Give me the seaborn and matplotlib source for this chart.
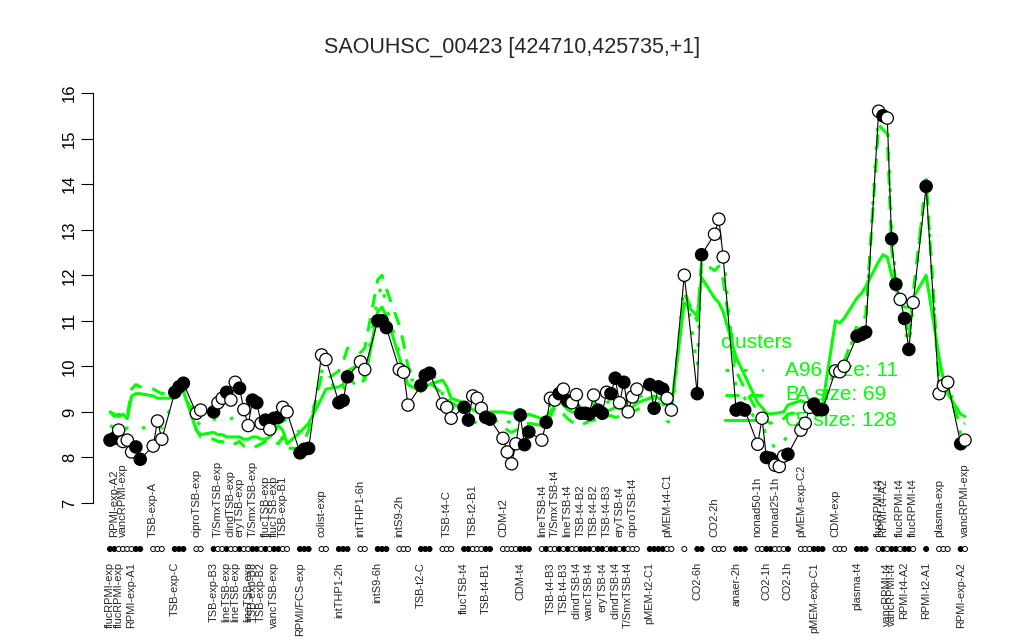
import numpy as np
import pandas as pd
import matplotlib
matplotlib.use("Agg")
import matplotlib.pyplot as plt
import matplotlib.transforms as mtransforms
from matplotlib.lines import Line2D
import seaborn as sns

title = "SAOUHSC_00423 [424710,425735,+1]"

# expression values per sample group (left to right)
expr = [
    [8.38, 8.42, 8.6, 8.35, 8.38, 8.12, 8.23, 7.96],
    [8.25, 8.8, 8.4],
    [9.43, 9.55, 9.63],
    [8.97, 9.04],
    [9.0, 9.2, 9.3, 9.43, 9.26, 9.65, 9.52, 9.05, 8.7, 9.26, 9.2, 8.75, 8.82, 8.62, 8.86, 8.88, 9.1, 9.0],
    [8.1, 8.18, 8.2],
    [10.25, 10.15],
    [9.2, 9.25, 9.77],
    [10.1, 9.93],
    [11.0, 11.0, 10.85],
    [9.93, 9.87, 9.15],
    [9.58, 9.8, 9.85],
    [9.17, 9.1, 8.86],
    [9.1, 8.82, 9.35, 9.3, 9.08, 8.88, 8.84],
    [8.42, 8.12, 7.86, 8.3, 8.93, 8.28, 8.56],
    [8.38, 8.77, 9.3, 9.26, 9.4, 9.5, 9.24, 9.2, 9.38, 8.97, 8.97, 8.95, 9.37, 9.04, 8.97, 9.43, 9.4, 9.74, 9.2, 9.65, 9.0, 9.33, 9.5],
    [9.6, 9.08, 9.55, 9.5, 9.3, 9.04],
    [12.0],
    [9.4, 12.45],
    [12.9, 13.23, 12.4],
    [9.04, 9.08, 9.04],
    [8.29, 8.86, 8.0, 7.98, 7.83, 7.8, 8.03, 8.07],
    [8.6, 8.75, 9.1, 9.17, 9.05, 9.05],
    [9.9, 9.88, 10.0],
    [10.66, 10.7, 10.75],
    [15.6, 15.5, 15.45, 12.8, 11.8, 11.47, 11.05, 10.37, 11.4],
    [13.95],
    [9.4, 9.58, 9.65],
    [8.3, 8.38],
]

# F = filled circle, O = open circle
fills = [
    "FFOOOOFF", "OOO", "FFF", "OO", "FOOFOOFOOFFOFOFFOO", "FFF", "OO", "FFF", "OO",
    "FFF", "OOO", "FFF", "OOO", "FFOOOFF", "OOOOFFF", "OFOOFOFOOFFFOFFOFFOFOOO",
    "FFFFOO", "O", "FF", "OOO", "FFF", "OOFFOOOF", "OOOFFF", "OOO", "FFF", "OFOFFOFFO",
    "F", "OOO", "FO",
]

# cluster mean profiles
cluster_A = [
    [8.7, 8.65, 8.7, 8.6, 8.65, 8.6, 8.65, 8.65],
    [8.65, 8.7, 8.65],
    [9.3, 9.5, 9.6],
    [8.8, 8.7],
    [8.85, 8.8, 8.8, 8.85, 8.85, 8.9, 8.85, 8.75, 8.7, 8.75, 8.8, 8.75, 8.7, 8.6, 8.7, 8.65, 8.9, 8.75],
    [8.55, 8.5, 8.6],
    [9.9, 9.8],
    [9.4, 9.5, 9.75],
    [9.5, 9.8],
    [11.5, 11.8, 11.3],
    [10.3, 10.0, 9.7],
    [9.7, 9.9, 10.0],
    [9.4, 9.3, 9.1],
    [9.0, 8.9, 9.15, 9.1, 9.0, 8.9, 8.9],
    [8.9, 8.8, 8.75, 8.85, 9.15, 8.9, 8.8],
    [8.8, 8.9, 9.2, 9.3, 9.3, 9.35, 9.25, 9.2, 9.2, 9.1, 9.05, 9.1, 9.2, 9.15, 9.1, 9.2, 9.25, 9.4, 9.2, 9.35, 9.15, 9.2, 9.3],
    [9.45, 9.2, 9.3, 9.2, 8.8, 8.75],
    [11.9],
    [10.0, 12.3],
    [12.9, 13.0, 12.5],
    [9.5, 9.4, 9.3],
    [8.7, 8.9, 8.4, 8.35, 8.2, 8.2, 8.35, 8.5],
    [8.7, 8.85, 9.0, 9.1, 9.0, 9.05],
    [9.9, 9.95, 10.1],
    [10.8, 10.85, 10.9],
    [15.7, 15.6, 15.5, 13.0, 11.9, 11.5, 11.0, 10.3, 11.4],
    [14.2],
    [9.5, 9.6, 9.7],
    [8.5, 8.55],
]
cluster_B = [
    [9.0, 8.9, 8.95, 8.85, 8.9, 9.5, 9.6, 9.55],
    [9.5, 9.45, 9.4],
    [9.45, 9.5, 9.55],
    [8.6, 8.45],
    [8.4, 8.35, 8.35, 8.3, 8.35, 8.3, 8.35, 8.25, 8.25, 8.2, 8.25, 8.3, 8.35, 8.3, 8.35, 8.3, 8.45, 8.2],
    [8.2, 8.35, 8.6],
    [9.8, 9.7],
    [9.9, 10.1, 10.4],
    [10.3, 10.4],
    [11.9, 12.0, 11.7],
    [10.9, 10.5, 10.0],
    [9.45, 9.6, 9.65],
    [9.4, 9.3, 9.2],
    [9.05, 8.9, 8.8, 8.75, 8.8, 8.85, 8.9],
    [8.7, 8.6, 8.55, 8.6, 8.65, 8.7, 8.75],
    [8.7, 8.75, 8.9, 9.1, 9.05, 8.95, 8.85, 8.78, 8.72, 8.7, 8.75, 8.8, 8.82, 8.85, 8.88, 8.9, 8.92, 8.88, 8.9, 8.95, 8.9, 9.0, 9.05],
    [9.15, 9.1, 9.2, 9.1, 9.0, 9.05],
    [11.6],
    [11.0, 12.3],
    [12.1, 12.2, 11.9],
    [9.9, 9.7, 9.5],
    [9.0, 8.9, 8.8, 8.75, 8.8, 8.8, 8.85, 8.95],
    [9.0, 9.05, 9.1, 9.1, 9.05, 9.1],
    [10.0, 10.0, 10.1],
    [10.9, 11.0, 11.1],
    [15.3, 15.2, 15.1, 12.6, 11.8, 11.5, 11.1, 10.6, 11.6],
    [14.1],
    [9.6, 9.5, 9.45],
    [8.7, 8.75],
]
cluster_C = [
    [9.0, 8.95, 8.9, 8.95, 8.85, 9.35, 9.4, 9.4],
    [9.35, 9.3, 9.3],
    [9.3, 9.4, 9.45],
    [8.6, 8.5],
    [8.55, 8.5, 8.5, 8.45, 8.45, 8.45, 8.45, 8.4, 8.4, 8.45, 8.45, 8.4, 8.4, 8.45, 8.55, 8.7, 8.6, 8.3],
    [8.55, 8.65, 8.75],
    [9.3, 9.5],
    [9.55, 9.6, 9.9],
    [10.05, 9.7],
    [11.2, 11.3, 11.1],
    [10.2, 9.9, 9.6],
    [9.45, 9.55, 9.6],
    [9.7, 9.55, 9.3],
    [9.2, 9.1, 9.05, 9.0, 9.0, 8.95, 9.0],
    [9.0, 8.98, 8.97, 9.0, 9.05, 8.9, 8.95],
    [8.85, 8.9, 9.0, 9.15, 9.25, 9.15, 9.05, 9.0, 8.98, 8.97, 8.95, 8.93, 8.93, 8.97, 9.0, 9.02, 9.05, 9.1, 9.08, 9.04, 9.05, 9.1, 9.2],
    [9.3, 9.35, 9.3, 9.25, 9.15, 9.1],
    [11.4],
    [11.1, 11.95],
    [11.5, 11.4, 11.2],
    [10.2, 10.0, 9.8],
    [9.2, 9.1, 8.97, 8.95, 8.97, 8.98, 9.0, 9.15],
    [9.25, 9.2, 9.15, 9.1, 9.1, 9.15],
    [11.0, 10.95, 11.05],
    [11.5, 11.6, 11.75],
    [12.3, 12.45, 12.4, 12.0, 11.7, 11.4, 11.3, 11.3, 11.5],
    [12.0],
    [10.2, 9.7, 9.4],
    [8.95, 8.9],
]

# (group, sample within group, label)
top_labels = [
    (0, 1, "RPMI-exp-A2"), (0, 3, "vancRPMI-exp"), (1, 0, "TSB-exp-A"), (3, 0, "ciproTSB-exp"),
    (4, 1, "T/SmxTSB-exp"), (4, 4, "clindTSB-exp"), (4, 6, "eryTSB-exp"), (4, 9, "T/SmxTSB-exp"),
    (4, 12, "flucTSB-exp"), (4, 14, "flucTSB-exp"), (4, 16, "TSB-exp-B1"), (6, 0, "colist-exp"),
    (8, 0, "intTHP1-6h"), (10, 0, "intS9-2h"), (12, 1, "TSB-t4-C"), (13, 2, "TSB-t2-B1"),
    (14, 0, "CDM-t2"), (15, 0, "lineTSB-t4"), (15, 3, "T/SmxTSB-t4"), (15, 6, "lineTSB-t4"),
    (15, 9, "TSB-t4-B2"), (15, 12, "TSB-t4-B2"), (15, 15, "TSB-t4-B3"), (15, 18, "eryTSB-t4"),
    (15, 21, "ciproTSB-t4"), (16, 4, "pMEM-t4-C1"), (19, 0, "CO2-2h"), (21, 0, "nonad50-1h"),
    (21, 4, "nonad25-1h"), (22, 0, "pMEM-exp-C2"), (23, 0, "CDM-exp"), (25, 0, "flucRPMI-t4"),
    (25, 1, "RPMI-t4-A2"), (25, 5, "flucRPMI-t4"), (25, 8, "flucRPMI-t4"), (27, 0, "plasma-exp"),
    (28, 1, "vancRPMI-exp"),
]
bottom_labels = [
    (0, 0, "flucRPMI-exp"), (0, 2, "flucRPMI-exp"), (0, 5, "RPMI-exp-A1"), (2, 0, "TSB-exp-C"),
    (4, 0, "TSB-exp-B3"), (4, 3, "lineTSB-exp"), (4, 5, "lineTSB-exp"), (4, 8, "lineTSB-exp"),
    (4, 9, "TSB-exp-B3"), (4, 11, "TSB-exp-B2"), (4, 14, "vancTSB-exp"), (5, 0, "RPMI/FCS-exp"),
    (7, 0, "intTHP1-2h"), (9, 0, "intS9-6h"), (11, 0, "TSB-t2-C"), (13, 0, "flucTSB-t4"),
    (13, 5, "TSB-t4-B1"), (14, 4, "CDM-t4"), (15, 2, "TSB-t4-B3"), (15, 5, "TSB-t4-B3"),
    (15, 8, "clindTSB-t4"), (15, 11, "vancTSB-t4"), (15, 14, "eryTSB-t4"), (15, 17, "clindTSB-t4"),
    (15, 20, "T/SmxTSB-t4"), (16, 0, "pMEM-t2-C1"), (18, 0, "CO2-6h"), (20, 0, "anaer-2h"),
    (21, 2, "CO2-1h"), (21, 7, "CO2-1h"), (22, 3, "pMEM-exp-C1"), (24, 0, "plasma-t4"),
    (25, 2, "vancRPMI-t4"), (25, 3, "vancRPMI-t4"), (25, 6, "RPMI-t4-A2"), (26, 0, "RPMI-t2-A1"),
    (28, 0, "RPMI-exp-A2"),
]

legend_title = "clusters"
legend_first = ["A96", "B", "C"]
legend_rest = ["", "A", "5"]
legend_sizes = [11, 69, 128]

# ---------------------------------------------------------------
GREEN = "#00FF00"
GAP = 2.0

rows = []
pos = 0.0
for g, vals in enumerate(expr):
    for k, v in enumerate(vals):
        rows.append(dict(x=pos, v=v, fill=fills[g][k], A=cluster_A[g][k],
                         B=cluster_B[g][k], C=cluster_C[g][k], g=g, k=k))
        pos += 1
    pos += GAP
df = pd.DataFrame(rows)
xpos = {(r.g, r.k): r.x for r in df.itertuples()}

sns.set_style("white")
plt.rcParams["font.family"] = ["Liberation Sans", "DejaVu Sans"]

W, H = 1024, 640
fig = plt.figure(figsize=(W / 100, H / 100), dpi=100)
ax_left_px, ax_right_px = 93, 1000
ax_bottom_px, ax_top_px = 519.4, 76.6
ax = fig.add_axes([ax_left_px / W, 1 - ax_bottom_px / H,
                   (ax_right_px - ax_left_px) / W, (ax_bottom_px - ax_top_px) / H])

styles = {"A": (0, (1.2, 4.8)), "B": (0, (4.5, 3.5)), "C": "-"}
for key in ["A", "B", "C"]:
    sns.lineplot(data=df, x="x", y=key, sort=False, estimator=None, color=GREEN,
                 lw=2.2, ax=ax, zorder=2)
    ln = ax.lines[-1]
    ln.set_linestyle(styles[key])
    ln.set_dash_capstyle("butt")

sns.lineplot(data=df, x="x", y="v", sort=False, estimator=None, color="black",
             lw=0.8, ax=ax, zorder=3)
sns.scatterplot(data=df, x="x", y="v", hue="fill", palette={"F": "black", "O": "white"},
                edgecolor="black", linewidth=0.9, s=78, legend=False, ax=ax, zorder=4)

x0, x1 = df.x.min(), df.x.max()
span = x1 - x0
first_px, last_px = 110, 965
upp = span / (last_px - first_px)
ax.set_xlim(x0 - (first_px - ax_left_px) * upp, x1 + (ax_right_px - last_px) * upp)
ax.set_ylim(6.64, 16.36)
ax.set_xlabel("")
ax.set_ylabel("")
ax.set_xticks([])
ax.set_yticks(range(7, 17))
for s in ["top", "right", "bottom"]:
    ax.spines[s].set_visible(False)
ax.spines["left"].set_bounds(7, 16)
ax.spines["left"].set_color("black")
ax.spines["left"].set_linewidth(0.8)
ax.tick_params(axis="y", length=8.6, width=0.8, labelsize=12, pad=3, colors="black", left=True)
for lab in ax.get_yticklabels():
    lab.set_rotation(90)
    lab.set_va("center")

axh = ax_bottom_px - ax_top_px
blend = mtransforms.blended_transform_factory(ax.transData, ax.transAxes)
dot_y = -(549 - ax_bottom_px) / axh
ax.scatter(df.x, np.full(len(df), dot_y), transform=blend, s=13,
           c=["black" if f == "F" else "white" for f in df.fill],
           edgecolors="black", linewidths=0.7, clip_on=False, zorder=4)

top_y = -(537 - ax_bottom_px) / axh
bot_y = -(562 - ax_bottom_px) / axh
for g, k, t in top_labels:
    ax.text(xpos[(g, k)], top_y, t, transform=blend, rotation=90, ha="center", va="bottom",
            fontsize=8.1, clip_on=False)
for g, k, t in bottom_labels:
    ax.text(xpos[(g, k)], bot_y, t, transform=blend, rotation=90, ha="center", va="top",
            fontsize=7.9, clip_on=False)

fig.text(0.5, 1 - 48 / H, title, ha="center", va="center", fontsize=15.5)

# legend (drawn below points)
def fx(px):
    return px / W

def fy(py):
    return 1 - py / H

ax.text(fx(720), fy(343), legend_title, transform=fig.transFigure, color=GREEN,
        fontsize=15, ha="left", va="center", zorder=1)
rows_y = [370, 395, 420]
for i, key in enumerate(["A", "B", "C"]):
    ln = Line2D([fx(725), fx(763)], [fy(rows_y[i])] * 2, transform=fig.transFigure,
                color=GREEN, lw=2.2, linestyle=styles[key], zorder=1)
    ln.set_dash_capstyle("butt")
    ln.set_clip_on(False)
    ax.add_line(ln)
    if legend_rest[i]:
        ax.text(fx(785), fy(rows_y[i]), legend_first[i], transform=fig.transFigure,
                color=GREEN, fontsize=15, ha="left", va="center", zorder=1)
        ax.text(fx(796), fy(rows_y[i]), f"{legend_rest[i]} size: {legend_sizes[i]}",
                transform=fig.transFigure, color=GREEN, fontsize=15, ha="left",
                va="center", zorder=1)
    else:
        ax.text(fx(785), fy(rows_y[i]), f"{legend_first[i]} size: {legend_sizes[i]}",
                transform=fig.transFigure, color=GREEN, fontsize=15, ha="left",
                va="center", zorder=1)

fig.savefig("out.png", dpi=100)
